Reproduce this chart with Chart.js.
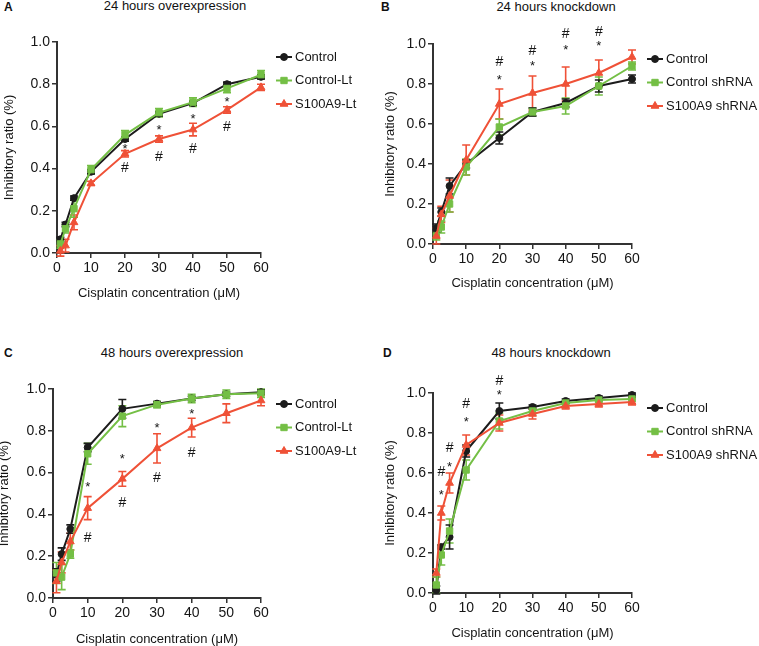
<!DOCTYPE html>
<html>
<head>
<meta charset="utf-8">
<script src="https://cdn.jsdelivr.net/npm/chart.js@4.4.1/dist/chart.umd.min.js"></script>
<style>
  body { margin: 0; background: #fff; font-family: "Liberation Sans", Arial, sans-serif; }
  #page { position: relative; width: 759px; height: 646px; overflow: hidden; }
  canvas { position: absolute; }
  .lbl { position: absolute; font-weight: bold; font-size: 12px; line-height: 14px; color: #111; }
  .ttl { position: absolute; font-size: 13px; line-height: 14px; color: #111; transform: translateX(-50%); white-space: nowrap; }
</style>
</head>
<body>
<div id="page">
  <div class="lbl" style="left:4px;top:0px">A</div>
  <div class="ttl" style="left:175px;top:-1px">24 hours overexpression</div>
  <div class="lbl" style="left:381px;top:0px">B</div>
  <div class="ttl" style="left:556px;top:0px">24 hours knockdown</div>
  <div class="lbl" style="left:4px;top:346px">C</div>
  <div class="ttl" style="left:172px;top:346px">48 hours overexpression</div>
  <div class="lbl" style="left:383px;top:346px">D</div>
  <div class="ttl" style="left:551px;top:346px">48 hours knockdown</div>

  <canvas id="chartA" width="379" height="312" style="left:0px;top:0px"></canvas>
  <canvas id="chartB" width="380" height="312" style="left:379px;top:0px"></canvas>
  <canvas id="chartC" width="383" height="330" style="left:-4px;top:320px"></canvas>
  <canvas id="chartD" width="380" height="326" style="left:379px;top:320px"></canvas>
</div>

<script>
// ---------- data ----------
const conc = [1, 2.5, 5, 10, 20, 30, 40, 50, 60];
const yTicks = [0, 0.2, 0.4, 0.6, 0.8, 1.0];
const xTicks = [0, 10, 20, 30, 40, 50, 60];

// A: 24 h overexpression
const ctrlA  = [0.065, 0.135, 0.26, 0.385, 0.54, 0.66, 0.71, 0.80, 0.835];
const ltA    = [0.043, 0.115, 0.21, 0.395, 0.56, 0.665, 0.715, 0.78, 0.845];
const s100A  = [0.01, 0.035, 0.145, 0.33, 0.47, 0.54, 0.585, 0.678, 0.785];
const ctrlAErr = [0.01, 0.01, 0.01, 0.01, 0.01, 0.01, 0.01, 0.01, 0.01];
const ltAErr   = [0.02, 0.02, 0.04, 0.02, 0.02, 0.02, 0.02, 0.02, 0.02];
const s100AErr = [0.025, 0.03, 0.035, 0.01, 0.015, 0.015, 0.03, 0.015, 0.015];
const starsA  = [[20, 0.51], [30, 0.60], [40, 0.654], [50, 0.733]];
const hashesA = [[20, 0.41], [30, 0.46], [40, 0.496], [50, 0.60]];

// B: 24 h knockdown
const ctrlB  = [0.08, 0.16, 0.29, 0.40, 0.53, 0.66, 0.705, 0.79, 0.825];
const shB    = [0.04, 0.085, 0.20, 0.385, 0.585, 0.66, 0.69, 0.79, 0.89];
const s100B  = [0.04, 0.148, 0.24, 0.42, 0.70, 0.755, 0.80, 0.855, 0.935];
const ctrlBErr = [0.02, 0.02, 0.04, 0.02, 0.03, 0.02, 0.02, 0.03, 0.02];
const shBErr   = [0.02, 0.03, 0.04, 0.04, 0.04, 0.02, 0.04, 0.045, 0.02];
const s100BErr = [0.04, 0.04, 0.08, 0.075, 0.075, 0.085, 0.085, 0.065, 0.035];
const starsB  = [[20, 0.84], [30, 0.907], [40, 0.99], [50, 1.007]];
const hashesB = [[20, 0.917], [30, 0.97], [40, 1.053], [50, 1.067]];

// C: 48 h overexpression
const ctrlC  = [0.11, 0.21, 0.33, 0.72, 0.905, 0.93, 0.955, 0.975, 0.985];
const ltC    = [0.12, 0.10, 0.21, 0.69, 0.87, 0.925, 0.955, 0.975, 0.98];
const s100C  = [0.08, 0.17, 0.27, 0.43, 0.57, 0.716, 0.815, 0.884, 0.945];
const ctrlCErr = [0.03, 0.03, 0.02, 0.02, 0.045, 0.01, 0.01, 0.01, 0.01];
const ltCErr   = [0.05, 0.06, 0.02, 0.05, 0.05, 0.015, 0.02, 0.02, 0.02];
const s100CErr = [0.055, 0.05, 0.04, 0.055, 0.035, 0.07, 0.045, 0.045, 0.025];
const starsC  = [[10, 0.549], [20, 0.68], [30, 0.828], [40, 0.896]];
const hashesC = [[10, 0.293], [20, 0.46], [30, 0.577], [40, 0.70]];

// D: 48 h knockdown
const ctrlD  = [0.015, 0.23, 0.28, 0.71, 0.91, 0.93, 0.96, 0.975, 0.99];
const shD    = [0.04, 0.19, 0.31, 0.615, 0.86, 0.91, 0.95, 0.965, 0.97];
const s100D  = [0.10, 0.40, 0.55, 0.74, 0.85, 0.895, 0.935, 0.945, 0.955];
const ctrlDErr = [0.02, 0.01, 0.06, 0.03, 0.04, 0.01, 0.01, 0.01, 0.01];
const shDErr   = [0.04, 0.05, 0.06, 0.05, 0.04, 0.02, 0.01, 0.01, 0.01];
const s100DErr = [0.02, 0.035, 0.05, 0.05, 0.04, 0.025, 0.015, 0.015, 0.015];
const starsD  = [[2.5, 0.51], [5, 0.65], [10, 0.875], [20, 1.01]];
const hashesD = [[2.5, 0.61], [5, 0.73], [10, 0.95], [20, 1.065]];

// ---------- styles ----------
const FONT = '"Liberation Sans", Arial, sans-serif';
const TEXT = '#151515';
const AXIS = '#333';
const BLACK = '#1c1c1c';
const GREEN = '#74bf45';
const RED = '#ef5137';

// ---------- plugins ----------
const errorBars = {
  id: 'errorBars',
  beforeDatasetsDraw(chart) {
    const { ctx, scales: { x, y } } = chart;
    ctx.save();
    ctx.lineWidth = 1.6;
    chart.data.datasets.slice().reverse().forEach(ds => {
      ctx.strokeStyle = ds.borderColor;
      ds.data.forEach((p, j) => {
        const e = ds.errors[j];
        if (!e) return;
        const px = x.getPixelForValue(p.x);
        const top = y.getPixelForValue(p.y + e);
        const bot = y.getPixelForValue(p.y - e);
        ctx.beginPath();
        ctx.moveTo(px, top); ctx.lineTo(px, bot);
        ctx.moveTo(px - 4, top); ctx.lineTo(px + 4, top);
        ctx.moveTo(px - 4, bot); ctx.lineTo(px + 4, bot);
        ctx.stroke();
      });
    });
    ctx.restore();
  }
};

const sigMarks = {
  id: 'sigMarks',
  afterDatasetsDraw(chart, args, opts) {
    const { ctx, scales: { x, y } } = chart;
    ctx.save();
    ctx.fillStyle = TEXT;
    ctx.textAlign = 'center';
    ctx.textBaseline = 'alphabetic';
    ctx.font = '13px ' + FONT;
    (opts.stars || []).forEach(([sx, sy]) => {
      ctx.fillText('*', x.getPixelForValue(sx), y.getPixelForValue(sy) + 0.58 * 13);
    });
    ctx.font = '14px ' + FONT;
    (opts.hashes || []).forEach(([hx, hy]) => {
      ctx.fillText('#', x.getPixelForValue(hx), y.getPixelForValue(hy) + 0.36 * 14);
    });
    ctx.restore();
  }
};

const sideLegend = {
  id: 'sideLegend',
  afterDraw(chart) {
    const { ctx, chartArea } = chart;
    ctx.save();
    chart.data.datasets.forEach((ds, i) => {
      const yy = chartArea.top + 15 + i * 23.5;
      const x0 = chartArea.right + 15, x1 = chartArea.right + 31;
      ctx.strokeStyle = ds.borderColor;
      ctx.lineWidth = 2;
      ctx.beginPath(); ctx.moveTo(x0, yy); ctx.lineTo(x1, yy); ctx.stroke();
      ctx.fillStyle = ds.backgroundColor;
      ctx.lineWidth = 1;
      Chart.helpers.drawPoint(ctx, { pointStyle: ds.pointStyle, radius: ds.pointRadius, rotation: 0, borderWidth: 1 }, (x0 + x1) / 2, yy);
      ctx.fillStyle = TEXT;
      ctx.font = '13px ' + FONT;
      ctx.textBaseline = 'middle';
      ctx.textAlign = 'left';
      ctx.fillText(ds.label, chartArea.right + 34, yy);
    });
    ctx.restore();
  }
};

// ---------- builder ----------
function series(label, vals, errs, color, style, radius, order) {
  return {
    label,
    data: conc.map((c, i) => ({ x: c, y: vals[i] })),
    errors: errs,
    borderColor: color,
    backgroundColor: color,
    borderWidth: 2,
    pointStyle: style,
    pointRadius: radius,
    pointBorderWidth: 1,
    tension: 0,
    clip: false,
    order
  };
}

function panel(id, datasets, stars, hashes, box) {
  const tickFont = { family: FONT, size: 14 };
  const titleFont = { family: FONT, size: 13 };
  new Chart(document.getElementById(id), {
    type: 'line',
    data: { datasets },
    plugins: [errorBars, sigMarks, sideLegend],
    options: {
      responsive: false,
      animation: false,
      events: [],
      layout: { padding: { left: 0, top: box.top, right: box.right, bottom: box.bottom } },
      plugins: {
        legend: { display: false },
        tooltip: { enabled: false },
        sigMarks: { stars, hashes }
      },
      scales: {
        x: {
          type: 'linear', min: 0, max: 60,
          afterBuildTicks: s => { s.ticks = xTicks.map(v => ({ value: v })); },
          ticks: { font: tickFont, color: TEXT, padding: 2, maxRotation: 0 },
          grid: { drawOnChartArea: false, drawTicks: true, tickLength: 5, color: AXIS, lineWidth: 1.5 },
          border: { display: true, color: AXIS, width: 2 },
          title: { display: true, text: 'Cisplatin concentration (\u03bcM)', font: titleFont, color: TEXT, padding: { top: 0, bottom: 1 } },
          afterFit: s => { s.height = box.xH; }
        },
        y: {
          min: 0, max: 1,
          afterBuildTicks: s => { s.ticks = yTicks.map(v => ({ value: v })); },
          ticks: { font: tickFont, color: TEXT, padding: 2, callback: v => v.toFixed(1) },
          grid: { drawOnChartArea: false, drawTicks: true, tickLength: 5, color: AXIS, lineWidth: 1.5 },
          border: { display: true, color: AXIS, width: 2 },
          title: { display: true, text: 'Inhibitory ratio (%)', font: titleFont, color: TEXT, padding: { top: box.yPad, bottom: 0 } },
          afterFit: s => { s.width = box.yW; }
        }
      }
    }
  });
}

document.addEventListener('DOMContentLoaded', () => {
  panel('chartA', [
    series('Control', ctrlA, ctrlAErr, BLACK, 'circle', 3.5, 3),
    series('Control-Lt', ltA, ltAErr, GREEN, 'rect', 4.5, 2),
    series('S100A9-Lt', s100A, s100AErr, RED, 'triangle', 4.5, 1)
  ], starsA, hashesA, { top: 42, right: 118, bottom: 10, xH: 49, yW: 57, yPad: 2 });

  panel('chartB', [
    series('Control', ctrlB, ctrlBErr, BLACK, 'circle', 3.5, 3),
    series('Control shRNA', shB, shBErr, GREEN, 'rect', 4.5, 2),
    series('S100A9 shRNA', s100B, s100BErr, RED, 'triangle', 4.5, 1)
  ], starsB, hashesB, { top: 44, right: 127, bottom: 20, xH: 48, yW: 54, yPad: 4 });

  panel('chartC', [
    series('Control', ctrlC, ctrlCErr, BLACK, 'circle', 3.5, 3),
    series('Control-Lt', ltC, ltCErr, GREEN, 'rect', 4.5, 2),
    series('S100A9-Lt', s100C, s100CErr, RED, 'triangle', 4.5, 1)
  ], starsC, hashesC, { top: 69, right: 118, bottom: 2, xH: 50, yW: 57, yPad: 1 });

  panel('chartD', [
    series('Control', ctrlD, ctrlDErr, BLACK, 'circle', 3.5, 3),
    series('Control shRNA', shD, shDErr, GREEN, 'rect', 4.5, 2),
    series('S100A9 shRNA', s100D, s100DErr, RED, 'triangle', 4.5, 1)
  ], starsD, hashesD, { top: 73, right: 127, bottom: 4, xH: 49, yW: 54, yPad: 4 });
});
</script>
</body>
</html>
